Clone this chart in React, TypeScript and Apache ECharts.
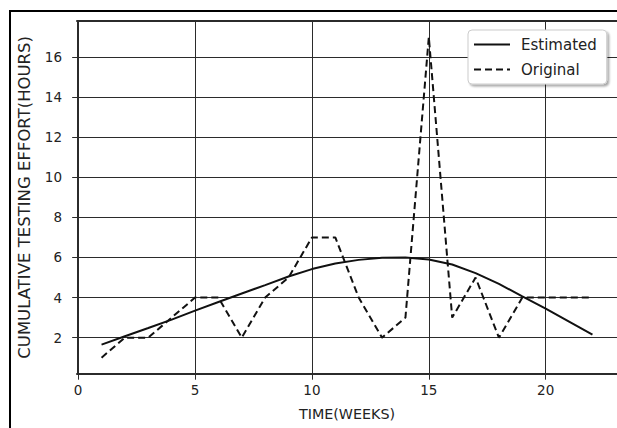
import React, { useEffect, useRef } from "react";
import * as echarts from "echarts";

const weeks = [1, 2, 3, 4, 5, 6, 7, 8, 9, 10, 11, 12, 13, 14, 15, 16, 17, 18, 19, 20, 21, 22];
const estimated = [1.65, 2.07, 2.48, 2.9, 3.35, 3.78, 4.2, 4.62, 5.05, 5.42, 5.7, 5.88, 5.98, 6.0, 5.9, 5.65, 5.22, 4.68, 4.06, 3.45, 2.8, 2.15];
const original = [1, 2, 2, 3, 4, 4, 2, 4, 5, 7, 7, 4, 2, 3, 17, 3, 5, 2, 4, 4, 4, 4];
const xTicks = [0, 5, 10, 15, 20];
const yTicks = [2, 4, 6, 8, 10, 12, 14, 16];

const FONT = "DejaVu Sans";

export default function App() {
  const ref = useRef<HTMLDivElement>(null);
  useEffect(() => {
    if (!ref.current) return;
    const chart = echarts.init(ref.current, null, { renderer: "svg" });
    const gridColor = "#2b2b2b";
    chart.setOption({
      animation: false,
      backgroundColor: "#ffffff",
      textStyle: { fontFamily: FONT },
      graphic: [
        {
          type: "rect",
          shape: { x: 10, y: 11, width: 700, height: 500 },
          style: { fill: "none", stroke: "#000", lineWidth: 2 },
          silent: true,
        },
      ],
      grid: { left: 77, top: 21, width: 540, height: 352.7, containLabel: false, outerBoundsMode: "none" },
      legend: {
        left: 468,
        top: 30,
        orient: "vertical",
        data: ["Estimated", "Original"],
        itemWidth: 36,
        itemHeight: 14,
        itemGap: 10,
        padding: [7, 10, 7, 5],
        backgroundColor: "#ffffff",
        borderColor: "#cccccc",
        borderWidth: 1,
        borderRadius: 4,
        shadowColor: "rgba(0,0,0,0.35)",
        shadowBlur: 2,
        shadowOffsetX: 2,
        shadowOffsetY: 2,
        itemStyle: { color: "rgba(0,0,0,0)", borderWidth: 0, opacity: 0 },
        textStyle: { fontFamily: FONT, fontSize: 15, color: "#222", padding: [0, 0, 0, 6] },
      },
      xAxis: [
        {
          type: "value",
          min: -0.05,
          max: 23.05,
          name: "TIME(WEEKS)",
          nameLocation: "middle",
          nameGap: 33,
          nameTextStyle: { fontFamily: FONT, fontSize: 14.3, color: "#222" },
          axisLine: { show: true, lineStyle: { color: gridColor, width: 2 } },
          axisTick: { show: true, inside: false, length: 6, customValues: xTicks, lineStyle: { color: gridColor, width: 1 } },
          axisLabel: { customValues: xTicks, margin: 9, fontFamily: FONT, fontSize: 13.5, color: "#222" },
          splitLine: { show: true, lineStyle: { color: gridColor, width: 1 } },
        },
        {
          type: "value",
          position: "top",
          min: -0.05,
          max: 23.05,
          axisLine: { show: true, lineStyle: { color: gridColor, width: 2 } },
          axisTick: { show: false },
          axisLabel: { show: false },
          splitLine: { show: false },
        },
      ],
      yAxis: [
        {
          type: "value",
          min: 0.2,
          max: 17.8,
          name: "CUMULATIVE TESTING EFFORT(HOURS)",
          nameLocation: "middle",
          nameGap: 44,
          nameTextStyle: { fontFamily: FONT, fontSize: 16.5, color: "#222" },
          axisLine: { show: true, lineStyle: { color: gridColor, width: 2 } },
          axisTick: { show: true, inside: false, length: 6, customValues: yTicks, lineStyle: { color: gridColor, width: 1 } },
          axisLabel: { customValues: yTicks, margin: 15, fontFamily: FONT, fontSize: 13.5, color: "#222" },
          splitLine: { show: true, lineStyle: { color: gridColor, width: 1 } },
        },
        {
          type: "value",
          position: "right",
          min: 0.2,
          max: 17.8,
          axisLine: { show: true, lineStyle: { color: gridColor, width: 2 } },
          axisTick: { show: false },
          axisLabel: { show: false },
          splitLine: { show: false },
        },
      ],
      series: [
        {
          name: "Estimated",
          type: "line",
          xAxisIndex: 0,
          yAxisIndex: 0,
          symbol: "none",
          data: weeks.map((w, i) => [w, estimated[i]]),
          lineStyle: { color: "#111", width: 2, type: "solid" },
          itemStyle: { color: "#111" },
        },
        {
          name: "Original",
          type: "line",
          xAxisIndex: 0,
          yAxisIndex: 0,
          symbol: "none",
          data: weeks.map((w, i) => [w, original[i]]),
          lineStyle: { color: "#111", width: 2, type: [7, 4] },
          itemStyle: { color: "#111" },
        },
      ],
    });
    return () => chart.dispose();
  }, []);
  return <div ref={ref} style={{ position: "fixed", left: 0, top: 0, width: 617, height: 428 }} />;
}
